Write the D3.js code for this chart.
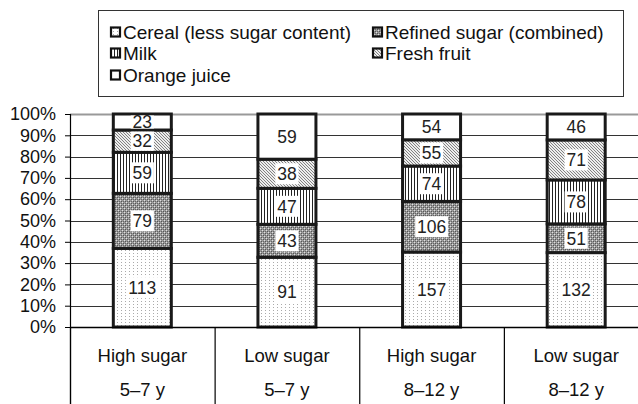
<!DOCTYPE html>
<html><head><meta charset="utf-8">
<script src="https://cdn.jsdelivr.net/npm/d3@7"></script>
<style>body{margin:0;background:#fff}svg{display:block}</style>
</head><body><svg id="c" width="638" height="404"></svg>
<script>
const groups = ["High sugar", "Low sugar", "High sugar", "Low sugar"];
const ages = ["5–7 y", "5–7 y", "8–12 y", "8–12 y"];
const seriesNames = ["Cereal (less sugar content)", "Refined sugar (combined)", "Milk", "Fresh fruit", "Orange juice"];
const cereal = [113, 91, 157, 132];
const refined = [79, 43, 106, 51];
const milk = [59, 47, 74, 78];
const fruit = [32, 38, 55, 71];
const juice = [23, 59, 54, 46];
const yTicks = [0, 0.1, 0.2, 0.3, 0.4, 0.5, 0.6, 0.7, 0.8, 0.9, 1];

const seriesVals = [cereal, refined, milk, fruit, juice];
const keys = ["s0", "s1", "s2", "s3", "s4"];
const rows = groups.map((g, i) => {
  const r = {idx: i};
  const tot = d3.sum(seriesVals, s => s[i]);
  keys.forEach((k, j) => r[k] = seriesVals[j][i] / tot);
  r.raw = seriesVals.map(s => s[i]);
  return r;
});

const svg = d3.select("#c");
const font = "'Liberation Sans', Arial, sans-serif";
const defs = svg.append("defs");

// patterns
let p = defs.append("pattern").attr("id", "p0").attr("patternUnits", "userSpaceOnUse").attr("width", 4).attr("height", 3);
p.append("rect").attr("width", 4).attr("height", 3).attr("fill", "#fff");
p.append("rect").attr("x", 1).attr("y", 1).attr("width", 1).attr("height", 1).attr("fill", "#aaa");
p = defs.append("pattern").attr("id", "p1").attr("patternUnits", "userSpaceOnUse").attr("width", 4).attr("height", 4);
p.append("rect").attr("width", 4).attr("height", 4).attr("fill", "#9a9a9a");
p.append("rect").attr("x", 0).attr("y", 0).attr("width", 1).attr("height", 1).attr("fill", "#e0e0e0");
p.append("rect").attr("x", 2).attr("y", 2).attr("width", 1).attr("height", 1).attr("fill", "#e0e0e0");
p.append("rect").attr("x", 1).attr("y", 1).attr("width", 1).attr("height", 1).attr("fill", "#555");
p.append("rect").attr("x", 3).attr("y", 3).attr("width", 1).attr("height", 1).attr("fill", "#555");
p.append("rect").attr("x", 3).attr("y", 1).attr("width", 1).attr("height", 1).attr("fill", "#666");
p.append("rect").attr("x", 1).attr("y", 3).attr("width", 1).attr("height", 1).attr("fill", "#666");
p = defs.append("pattern").attr("id", "p2").attr("patternUnits", "userSpaceOnUse").attr("width", 3).attr("height", 3);
p.append("rect").attr("width", 3).attr("height", 3).attr("fill", "#fff");
p.append("rect").attr("x", 0).attr("y", 0).attr("width", 1).attr("height", 3).attr("fill", "#222");
p = defs.append("pattern").attr("id", "p3").attr("patternUnits", "userSpaceOnUse").attr("width", 3).attr("height", 3);
p.append("rect").attr("width", 3).attr("height", 3).attr("fill", "#eee");
p.append("path").attr("d", "M0,0 L3,3 M-1,2 L1,4 M2,-1 L4,1").attr("stroke", "#666").attr("stroke-width", 0.8);
const fills = ["url(#p0)", "url(#p1)", "url(#p2)", "url(#p3)", "#fff"];

const x0 = 70, x1 = 648.5, yTop = 114, yBot = 327;
const x = d3.scaleBand().domain(d3.range(groups.length)).range([x0, x1]).paddingInner(0).paddingOuter(0);
const y = d3.scaleLinear().domain([0, 1]).range([yBot, yTop]);
const barW = 58;

// gridlines
svg.append("g").selectAll("line").data(yTicks.filter(t => t > 0)).join("line")
  .attr("x1", x0).attr("x2", 638).attr("y1", d => Math.round(y(d)) + 0.5).attr("y2", d => Math.round(y(d)) + 0.5)
  .attr("stroke", d => d === 1 ? "#999" : "#333").attr("stroke-width", d => d === 1 ? 2 : 1);

// y axis
const yAxis = d3.axisLeft(y).tickValues(yTicks).tickFormat(d3.format(".0%")).tickSize(5).tickPadding(9);
const ga = svg.append("g").attr("transform", `translate(${x0},0)`).call(yAxis);
ga.select(".domain").remove();
ga.selectAll("line").attr("stroke", "#000");
ga.selectAll("text").attr("font-family", font).attr("font-size", 18).attr("fill", "#111");
svg.append("line").attr("x1", x0 + 0.5).attr("x2", x0 + 0.5).attr("y1", yTop).attr("y2", 404).attr("stroke", "#000").attr("stroke-width", 1.2);

// stacked bars
const stack = d3.stack().keys(keys)(rows);
const gb = svg.append("g");
stack.forEach((layer, j) => {
  gb.append("g").selectAll("rect").data(layer).join("rect")
    .attr("x", d => x(d.data.idx) + x.bandwidth() / 2 - barW / 2)
    .attr("width", barW)
    .attr("y", d => y(d[1]))
    .attr("height", d => y(d[0]) - y(d[1]))
    .attr("fill", fills[j]).attr("stroke", "#1a1a1a").attr("stroke-width", 3);
});

// labels
stack.forEach((layer, j) => {
  layer.forEach(d => {
    const cx = x(d.data.idx) + x.bandwidth() / 2;
    const cy = (y(d[0]) + y(d[1])) / 2;
    const txt = String(d.data.raw[j]);
    const tw = txt.length * 9.6;
    const h = Math.min(21, y(d[0]) - y(d[1]) - 3);
    svg.append("rect").attr("x", cx - tw / 2 - 2).attr("y", cy - h / 2).attr("width", tw + 4).attr("height", h).attr("fill", "#fff");
    svg.append("text").attr("x", cx).attr("y", cy).attr("dy", "0.36em").attr("text-anchor", "middle")
      .attr("font-family", font).attr("font-size", 17.5).attr("fill", "#222").text(txt);
  });
});

// x axis
svg.append("line").attr("x1", x0).attr("x2", 638).attr("y1", yBot + 0.5).attr("y2", yBot + 0.5).attr("stroke", "#000").attr("stroke-width", 1.5);
const gx = svg.append("g");
gx.selectAll("line").data(d3.range(groups.length + 1)).join("line")
  .attr("x1", d => (d < groups.length ? x(d) : x1) + 0.5).attr("x2", d => (d < groups.length ? x(d) : x1) + 0.5)
  .attr("y1", yBot).attr("y2", 404).attr("stroke", "#000").attr("stroke-width", 1.2);
gx.selectAll("text.g").data(groups).join("text").attr("class", "g")
  .attr("x", (d, i) => x(i) + x.bandwidth() / 2).attr("y", 355).attr("dy", "0.36em").attr("text-anchor", "middle")
  .attr("font-family", font).attr("font-size", 18.5).attr("fill", "#111").text(d => d);
gx.selectAll("text.a").data(ages).join("text").attr("class", "a")
  .attr("x", (d, i) => x(i) + x.bandwidth() / 2).attr("y", 389).attr("dy", "0.36em").attr("text-anchor", "middle")
  .attr("font-family", font).attr("font-size", 18.5).attr("fill", "#111").text(d => d);

// legend
svg.append("rect").attr("x", 98.5).attr("y", 10.5).attr("width", 525).attr("height", 86).attr("fill", "#fff").attr("stroke", "#333").attr("stroke-width", 1);
const legPos = [[111, 32], [373, 32], [111, 53], [373, 53], [111, 75]];
seriesNames.forEach((n, j) => {
  const [lx, ly] = legPos[j];
  svg.append("rect").attr("x", lx).attr("y", ly - 4.5).attr("width", 9).attr("height", 9)
    .attr("fill", fills[j]).attr("stroke", "#111").attr("stroke-width", 2.2);
  svg.append("text").attr("x", lx + 12).attr("y", ly).attr("dy", "0.36em")
    .attr("font-family", font).attr("font-size", 19).attr("fill", "#111").text(n);
});
</script></body></html>
